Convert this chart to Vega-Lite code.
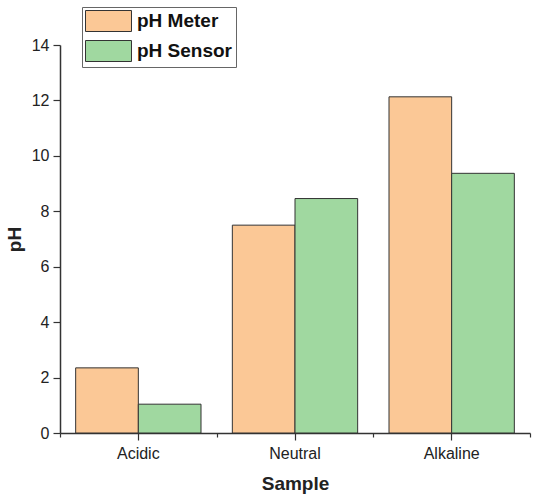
{
  "$schema": "https://vega.github.io/schema/vega-lite/v6.json",
  "autosize": "none",
  "width": 470,
  "height": 388,
  "padding": {"left": 60, "top": 45, "right": 8, "bottom": 62},
  "background": "white",
  "config": {
    "font": "Liberation Sans",
    "view": {"stroke": null},
    "axis": {"domainColor": "#333", "tickColor": "#333", "labelColor": "#222", "titleColor": "#222", "grid": false}
  },
  "data": {"values": [
    {"sample": "Acidic", "series": "pH Meter", "ph": 2.35},
    {"sample": "Acidic", "series": "pH Sensor", "ph": 1.04},
    {"sample": "Neutral", "series": "pH Meter", "ph": 7.5},
    {"sample": "Neutral", "series": "pH Sensor", "ph": 8.46},
    {"sample": "Alkaline", "series": "pH Meter", "ph": 12.13},
    {"sample": "Alkaline", "series": "pH Sensor", "ph": 9.37}
  ]},
  "layer": [
    {
      "mark": {"type": "bar", "stroke": "#333", "strokeWidth": 1},
      "encoding": {
        "x": {"field": "sample", "type": "nominal", "sort": ["Acidic", "Neutral", "Alkaline"],
          "scale": {"paddingInner": 0, "paddingOuter": 0},
          "axis": {"orient": "bottom", "title": "Sample", "labelAngle": 0, "labelFontSize": 16, "labelPadding": 5,
            "tickSize": 7, "tickWidth": 1.2, "domainWidth": 1.5, "titleFontSize": 19, "titleFontWeight": "bold", "titlePadding": 13}},
        "xOffset": {"field": "series", "type": "nominal", "scale": {"paddingInner": 0, "paddingOuter": 0.25}},
        "y": {"field": "ph", "type": "quantitative",
          "scale": {"domain": [0, 14], "nice": false},
          "axis": {"title": "pH", "values": [0,1,2,3,4,5,6,7,8,9,10,11,12,13,14],
            "labelExpr": "datum.value % 2 === 0 ? datum.label : ''",
            "tickSize": {"condition": {"test": "datum.value % 2 === 0", "value": 7}, "value": 4},
            "tickWidth": 1.2, "domainWidth": 1.5, "labelFontSize": 16, "labelPadding": 4,
            "titleFontSize": 19, "titleFontWeight": "bold", "titlePadding": 7}},
        "color": {"field": "series", "type": "nominal",
          "scale": {"domain": ["pH Meter", "pH Sensor"], "range": ["#FBC896", "#A0D8A0"]},
          "legend": {"orient": "none", "legendX": 22, "legendY": -38, "title": null,
            "symbolType": "M-1,-1H3.38V1H-1Z", "symbolSize": 441, "symbolStrokeColor": "#333", "symbolStrokeWidth": 1,
            "labelFontSize": 19, "labelFontWeight": "bold", "labelColor": "#111", "rowPadding": 4,
            "strokeColor": "#666", "padding": 3, "fillColor": "white", "labelOffset": 30}}
      }
    },
    {
      "mark": {"type": "bar", "opacity": 0},
      "encoding": {
        "x": {"field": "sample", "type": "nominal", "sort": ["Acidic", "Neutral", "Alkaline"],
          "axis": {"orient": "bottom", "tickBand": "extent", "labels": false, "domain": false, "title": null, "tickSize": 4, "tickWidth": 1.2}},
        "y": {"field": "ph", "type": "quantitative"}
      }
    }
  ],
  "resolve": {"axis": {"x": "independent"}}
}
